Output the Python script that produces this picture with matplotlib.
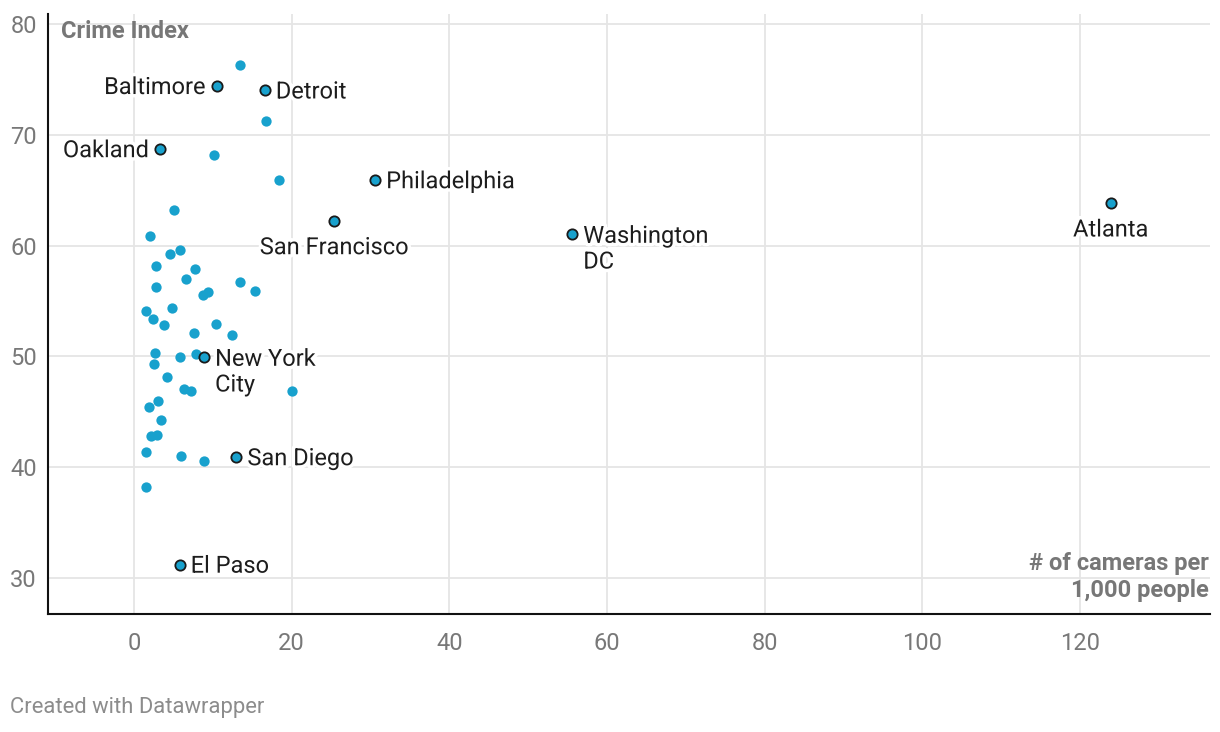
import matplotlib
matplotlib.use("Agg")
import matplotlib.pyplot as plt
import matplotlib.patheffects as pe

plt.rcParams['font.family'] = ['Roboto', 'DejaVu Sans']

# Unlabeled cities: cameras per 1,000 people vs crime index
x_vals = [13.4, 16.8, 10.1, 18.4, 5.1, 2.1, 5.8, 4.6, 2.8, 7.8, 6.6, 13.4, 2.8,
          15.4, 9.4, 8.7, 4.8, 1.5, 2.4, 3.8, 10.4, 7.6, 12.4, 2.7, 7.9, 5.8,
          2.6, 4.2, 6.4, 7.2, 20.0, 3.0, 3.4, 1.9, 2.9, 2.2, 1.5, 6.0, 8.9, 1.5]
y_vals = [76.3, 71.2, 68.2, 65.9, 63.2, 60.9, 59.6, 59.2, 58.2, 57.9, 57.0, 56.7, 56.3,
          55.9, 55.8, 55.5, 54.4, 54.1, 53.4, 52.8, 52.9, 52.1, 51.9, 50.3, 50.2, 49.9,
          49.3, 48.1, 47.1, 46.9, 46.9, 46.0, 44.3, 45.4, 42.9, 42.8, 41.4, 41.0, 40.6, 38.2]

# Labeled cities
names = ["Baltimore", "Detroit", "Oakland", "Philadelphia", "San Francisco",
         "Washington\nDC", "Atlanta", "New York\nCity", "San Diego", "El Paso"]
lab_x = [10.5, 16.6, 3.3, 30.6, 25.4, 55.6, 123.9, 8.9, 13.0, 5.8]
lab_y = [74.4, 74.0, 68.7, 65.9, 62.2, 61.0, 63.8, 49.9, 40.9, 31.2]
placement = ["left", "right", "left", "right", "below", "right", "below", "right", "right", "right"]

x_ticks = [0, 20, 40, 60, 80, 100, 120]
y_ticks = [30, 40, 50, 60, 70, 80]

BLUE = "#18a1cd"
LABEL_FS = 17

fig = plt.figure(figsize=(12.2, 7.32), dpi=100)
ax = fig.add_axes([48/1220, 1-614/732, (1210-48)/1220, (614-14)/732])

ax.set_xlim(-10.9, 136.5)
ax.set_ylim(26.75, 80.9)
ax.set_xticks(x_ticks)
ax.set_yticks(y_ticks)
ax.grid(True, color="#e5e5e5", linewidth=1.3, zorder=0)
ax.set_axisbelow(True)
ax.tick_params(length=0, labelsize=17, labelcolor="#787878")
ax.tick_params(axis='x', pad=13)
ax.tick_params(axis='y', pad=8)
for s in ["top", "right"]:
    ax.spines[s].set_visible(False)
for s in ["left", "bottom"]:
    ax.spines[s].set_color("#111111")
    ax.spines[s].set_linewidth(1.5)

ax.scatter(x_vals, y_vals, s=55, color=BLUE, linewidths=0, zorder=3)
ax.scatter(lab_x, lab_y, s=55, color=BLUE, edgecolors="#1a1a1a", linewidths=1.3, zorder=4)

halo = [pe.withStroke(linewidth=5, foreground="white")]
for nm, x, y, pl in zip(names, lab_x, lab_y, placement):
    nlines = nm.count("\n")
    if pl == "right":
        ax.annotate(nm, (x, y), xytext=(11, -8 - 26 * nlines), textcoords="offset pixels",
                    ha="left", va="baseline", fontsize=LABEL_FS, color="#1d1d1d",
                    linespacing=1.15, path_effects=halo, zorder=5)
    elif pl == "left":
        ax.annotate(nm, (x, y), xytext=(-11, -8 - 26 * nlines), textcoords="offset pixels",
                    ha="right", va="baseline", fontsize=LABEL_FS, color="#1d1d1d",
                    linespacing=1.15, path_effects=halo, zorder=5)
    else:
        ax.annotate(nm, (x, y), xytext=(0, -33), textcoords="offset pixels",
                    ha="center", va="baseline", fontsize=LABEL_FS, color="#1d1d1d",
                    path_effects=halo, zorder=5)

fig.text(61/1220, 1-31/732, "Crime Index", fontsize=17, fontweight="bold",
         color="#777777", ha="left", va="center")
fig.text(1209/1220, 1-577/732, "# of cameras per\n1,000 people", fontsize=17,
         fontweight="bold", color="#777777", ha="right", va="center",
         linespacing=1.2)
fig.text(10/1220, 1-708/732, "Created with Datawrapper", fontsize=15.8,
         color="#8c8c8c", ha="left", va="center")

fig.savefig("out.png", dpi=100)
